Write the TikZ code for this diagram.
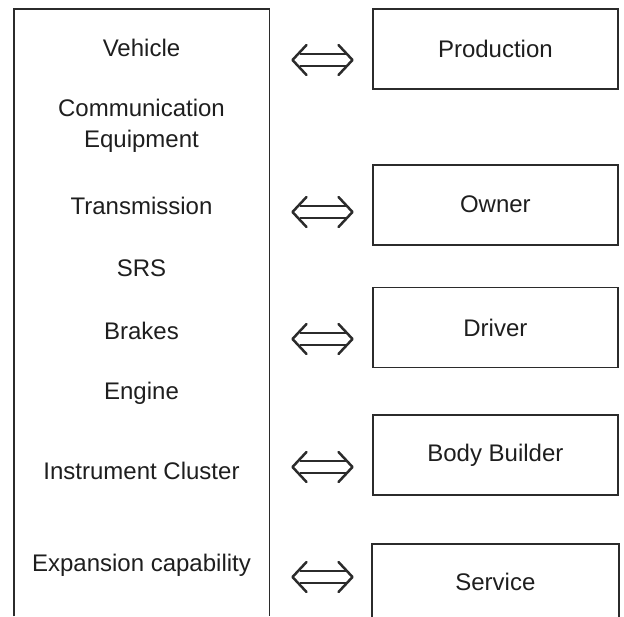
\documentclass[tikz,border=0pt]{standalone}
\usepackage{fontspec}
\setmainfont{Liberation Sans}
\usetikzlibrary{positioning}
\definecolor{linegray}{HTML}{2B2B2B}
\definecolor{textgray}{HTML}{1E1E1E}
\tikzset{
  basic/.style  = {font=\fontsize{24}{31}\selectfont, text=textgray},
  item/.style   = {basic, align=center, inner sep=0pt},
  rbox/.style   = {basic, draw=linegray, line width=1.8pt, minimum width=245pt, minimum height=80pt, inner sep=0pt},
  frame/.style  = {draw=linegray, line width=1.8pt},
  biarrow/.pic  = {
    \draw[frame, line width=2.5pt] (-23,-6) -- (23,-6) (-23,6) -- (23,6);
    \draw[frame, line width=2.5pt, line join=round, line cap=round] (-16,-15) -- (-30,0) -- (-16,15) (16,-15) -- (30,0) -- (16,15);
  }
}

\begin{document}
\begin{tikzpicture}[x=1pt, y=-1pt]
    \useasboundingbox (0,0) rectangle (624,616);
    % left column
    \node (lbox) [minimum width=255pt, minimum height=607pt, anchor=north west, inner sep=0pt] at (14,9) {};
    \draw[frame] (lbox.south west) -- (lbox.north west) -- (lbox.north east) -- (lbox.south east);
    \node [item] (vehicle)  at (141.5,48)  {Vehicle};
    \node [item] (comm)     at (141.5,126) {Communication\\Equipment};
    \node [item] (trans)    at (141.5,206) {Transmission};
    \node [item] (srs)      at (141.5,268) {SRS};
    \node [item] (brakes)   at (141.5,331) {Brakes};
    \node [item] (engine)   at (141.5,393) {Engine};
    \node [item] (cluster)  at (141.5,471) {Instrument Cluster};
    \node [item] (expand)   at (141.5,565) {Expansion capability};
    % right column
    \node [rbox, anchor=north west] (prod) at (372,8) {Production};
    \node [rbox, below=74pt of prod] (owner) {Owner};
    \node [rbox, below=41pt of owner] (driver) {Driver};
    \node [rbox, below=46pt of driver] (builder) {Body Builder};
    \node [rbox, draw=none, minimum height=73pt, below=48pt of builder] (service) {Service};
    \draw[frame] (service.south west) -- (service.north west) -- (service.north east) -- (service.south east);
    % links
    \pic at (322.5,60)  {biarrow};
    \pic at (322.5,212) {biarrow};
    \pic at (322.5,339) {biarrow};
    \pic at (322.5,467) {biarrow};
    \pic at (322.5,577) {biarrow};
\end{tikzpicture}
\end{document}
